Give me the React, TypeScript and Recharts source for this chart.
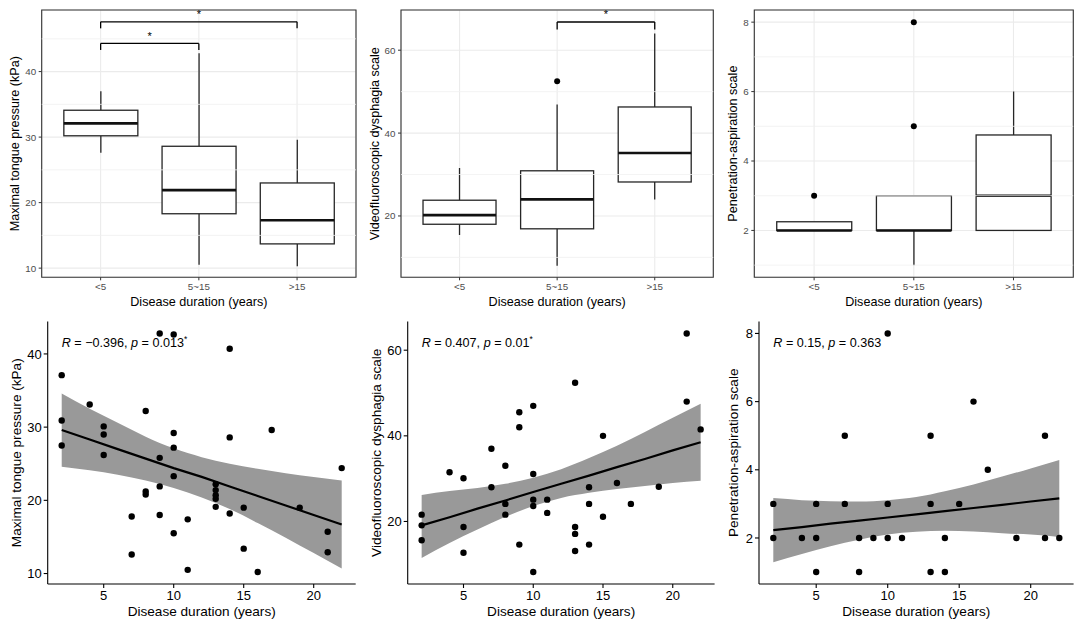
import React from "react";
import {
  ComposedChart, Bar, Scatter, Line, Area, XAxis, YAxis, CartesianGrid,
  ReferenceLine, ReferenceArea, ReferenceDot,
} from "recharts";

// ---- top row: box plots by disease-duration group ----
const groups = ["<5", "5~15", ">15"];
const groupPos = [1, 2, 3];

const mtpLow = [27.6, 10.5, 10.3];
const mtpQ1 = [30.2, 18.3, 13.7];
const mtpMed = [32.1, 21.9, 17.3];
const mtpQ3 = [34.1, 28.6, 23.0];
const mtpHigh = [37.0, 42.8, 29.6];

const vdsLow = [15.4, 8.0, 24.0];
const vdsQ1 = [18.0, 16.9, 28.2];
const vdsMed = [20.2, 24.0, 35.2];
const vdsQ3 = [23.8, 30.9, 46.3];
const vdsHigh = [31.6, 46.9, 64.0];
const vdsOutGroup = [2];
const vdsOutValue = [52.5];

const pasLow = [2, 1, 2];
const pasQ1 = [2, 2, 2];
const pasMed = [2, 2, 3];
const pasQ3 = [2.25, 3, 4.75];
const pasHigh = [2.25, 3, 6];
const pasOutGroup = [1, 2, 2];
const pasOutValue = [3, 5, 8];

// significance brackets
const mtpBrFrom = [1, 1];
const mtpBrTo = [2, 3];
const mtpBrY = [44.3, 47.6];
const mtpBrTip = [43.3, 46.6];
const mtpStarY = [45.8, 49.1];
const vdsBrFrom = [2];
const vdsBrTo = [3];
const vdsBrY = [66.8];
const vdsBrTip = [65.0];
const vdsStarY = [69.3];

// ---- bottom row: scatter + regression ----
const mtpYears = [2, 2, 2, 4, 5, 5, 5, 7, 7, 8, 8, 8, 9, 9, 9, 9, 10, 10, 10, 10, 10, 11, 11, 13, 13, 13, 13, 13, 14, 14, 14, 15, 15, 16, 17, 19, 21, 21, 22];
const mtpValues = [37.1, 30.9, 27.5, 33.1, 30.1, 29.0, 26.2, 17.8, 12.6, 32.2, 21.2, 20.8, 42.8, 25.8, 21.9, 18.0, 42.65, 29.2, 27.2, 23.3, 15.5, 17.4, 10.5, 22.2, 21.4, 20.7, 20.2, 19.1, 40.7, 28.6, 18.2, 19.0, 13.4, 10.2, 29.6, 19.0, 15.7, 12.9, 24.4];

const vdsYears = [2, 2, 2, 4, 5, 5, 5, 7, 7, 8, 8, 8, 9, 9, 9, 10, 10, 10, 10, 10, 11, 11, 13, 13, 13, 13, 14, 14, 14, 15, 15, 16, 17, 19, 21, 21, 22];
const vdsValues = [21.6, 19.1, 15.6, 31.5, 30.1, 18.7, 12.7, 37.0, 28.0, 33.0, 24.1, 21.6, 45.5, 42.0, 14.6, 47.0, 31.1, 25.1, 23.6, 8.2, 25.1, 22.0, 52.4, 18.7, 17.1, 13.1, 28.0, 24.1, 14.6, 40.0, 21.1, 29.0, 24.1, 28.1, 63.9, 48.0, 41.5];

const pasYears = [2, 2, 4, 5, 5, 5, 7, 7, 8, 8, 9, 10, 10, 10, 11, 13, 13, 13, 14, 14, 15, 16, 17, 19, 21, 21, 22];
const pasValues = [3, 2, 2, 3, 2, 1, 5, 3, 2, 1, 2, 8, 3, 2, 2, 5, 3, 1, 2, 1, 3, 6, 4, 2, 5, 2, 2];

const fitX = [2, 4, 6, 8, 10, 12, 14, 16, 18, 20, 22];
const mtpFit = [29.6, 28.3, 27.0, 25.7, 24.4, 23.2, 21.9, 20.6, 19.3, 18.0, 16.7];
const mtpUpper = [34.6, 32.5, 30.6, 28.7, 27.1, 25.9, 25.0, 24.3, 23.7, 23.2, 22.7];
const mtpLower = [24.6, 24.1, 23.5, 22.7, 21.7, 20.4, 18.8, 16.9, 14.9, 12.8, 10.7];
const vdsFit = [19.1, 21.0, 23.0, 24.9, 26.9, 28.8, 30.7, 32.7, 34.6, 36.6, 38.5];
const vdsUpper = [26.2, 27.1, 27.8, 28.8, 30.2, 32.2, 34.8, 37.7, 40.9, 44.2, 47.5];
const vdsLower = [11.5, 15.0, 18.1, 21.1, 23.6, 25.5, 26.7, 27.6, 28.3, 29.0, 29.5];
const pasFit = [2.23, 2.32, 2.42, 2.51, 2.60, 2.69, 2.79, 2.88, 2.97, 3.07, 3.16];
const pasUpper = [3.17, 3.11, 3.08, 3.07, 3.11, 3.20, 3.37, 3.57, 3.80, 4.04, 4.29];
const pasLower = [1.29, 1.53, 1.76, 1.95, 2.10, 2.18, 2.21, 2.19, 2.14, 2.10, 2.03];

const statR = ["\u22120.396", "0.407", "0.15"];
const statP = ["0.013", "0.01", "0.363"];
const statStar = [true, true, false];

const durationTicks = [5, 10, 15, 20];
const mtpTicks = [10, 20, 30, 40];
const mtpMinor = [15, 25, 35, 45];
const vdsTicks = [20, 40, 60];
const vdsMinor = [10, 30, 50];
const pasTicks = [2, 4, 6, 8];
const pasMinor = [1, 3, 5, 7];

const FONT = "'Liberation Sans', Arial, Helvetica, sans-serif";
const BOX_LINE = "#262626";

const boxRows = (low: number[], q1: number[], med: number[], q3: number[], high: number[]) =>
  groupPos.map((x, i) => ({ x, low: low[i], q1: q1[i], med: med[i], q3: q3[i], high: high[i] }));

const makeBoxShape = (boxPx: number) => (props: any) => {
  const { x, y, width, height, payload } = props;
  if (!payload || x == null) return null;
  const top = Math.min(y, y + height);
  const bot = Math.max(y, y + height);
  const span = payload.high - payload.low;
  const py = (v: number) => top + ((bot - top) * (payload.high - v)) / span;
  const cx = x + width / 2;
  const half = boxPx / 2;
  const yq3 = py(payload.q3);
  const yq1 = py(payload.q1);
  const ym = py(payload.med);
  return (
    <g>
      <line x1={cx} x2={cx} y1={top} y2={yq3} stroke={BOX_LINE} strokeWidth={1.3} />
      <line x1={cx} x2={cx} y1={yq1} y2={bot} stroke={BOX_LINE} strokeWidth={1.3} />
      <rect x={cx - half} y={yq3} width={boxPx} height={Math.max(yq1 - yq3, 0)} fill="#fff" stroke={BOX_LINE} strokeWidth={1.3} />
      <line x1={cx - half} x2={cx + half} y1={ym} y2={ym} stroke="#111" strokeWidth={2.6} />
    </g>
  );
};

const dotShape = (r: number) => (p: any) => <circle cx={p.cx} cy={p.cy} r={r} fill="#000" />;

const xTitle = (text: string, dy: number, size: number) => (props: any) => {
  const vb = props.viewBox;
  return (
    <text x={vb.x + vb.width / 2} y={vb.y + dy} textAnchor="middle" dominantBaseline="central" fontSize={size} fill="#000">
      {text}
    </text>
  );
};

const yTitle = (text: string, dx: number, size: number) => (props: any) => {
  const vb = props.viewBox;
  const cx = vb.x + dx;
  const cy = vb.y + vb.height / 2;
  return (
    <text x={cx} y={cy} transform={`rotate(-90 ${cx} ${cy})`} textAnchor="middle" dominantBaseline="central" fontSize={size} fill="#000">
      {text}
    </text>
  );
};

interface BoxPanelProps {
  left: number;
  width: number;
  axisW: number;
  marginRight: number;
  yDomain: [number, number];
  yTicks: number[];
  yMinor: number[];
  rows: ReturnType<typeof boxRows>;
  outGroup?: number[];
  outValue?: number[];
  brFrom?: number[];
  brTo?: number[];
  brY?: number[];
  brTip?: number[];
  starY?: number[];
  title: string;
  titleDx: number;
  boxPx: number;
}

function BoxPanel(p: BoxPanelProps) {
  const outliers = (p.outGroup || []).map((g, i) => ({ x: g, y: p.outValue![i] }));
  const brackets = (p.brFrom || []).map((f, i) => ({ from: f, to: p.brTo![i], y: p.brY![i], tip: p.brTip![i], star: p.starY![i] }));
  const tickStyle = { fontSize: 9.8, fill: "#4D4D4D" };
  return (
    <div style={{ position: "absolute", left: p.left, top: 0 }}>
      <ComposedChart width={p.width} height={310} data={p.rows} margin={{ top: 10, right: p.marginRight, bottom: 0, left: 0 }}>
        <CartesianGrid stroke="#EBEBEB" strokeWidth={1.1} />
        {p.yMinor.map((v) => (
          <ReferenceLine key={v} y={v} stroke="#F0F0F0" strokeWidth={0.8} />
        ))}
        <XAxis
          dataKey="x" type="number" domain={[0.4, 3.6]} ticks={groupPos} allowDataOverflow
          tickFormatter={(v) => groups[v - 1]} tick={tickStyle} axisLine={false}
          tickLine={{ stroke: "#333", strokeWidth: 1 }} tickSize={3} tickMargin={2.5} height={32.7}
          label={xTitle("Disease duration (years)", 24.4, 12.6)}
        />
        <YAxis
          type="number" domain={p.yDomain} ticks={p.yTicks} allowDataOverflow width={p.axisW}
          tick={tickStyle} axisLine={false} tickLine={{ stroke: "#333", strokeWidth: 1 }}
          tickSize={3} tickMargin={2.5} label={yTitle(p.title, p.titleDx, 12.6)}
        />
        <Bar dataKey={(d: any) => [d.low, d.high]} shape={makeBoxShape(p.boxPx)} isAnimationActive={false} />
        {outliers.length > 0 && (
          <Scatter data={outliers} dataKey="y" shape={dotShape(3)} isAnimationActive={false} />
        )}
        {brackets.map((b, i) => (
          <ReferenceLine key={`h${i}`} segment={[{ x: b.from, y: b.y }, { x: b.to, y: b.y }]} stroke="#000" strokeWidth={1.3} />
        ))}
        {brackets.map((b, i) => (
          <ReferenceLine key={`l${i}`} segment={[{ x: b.from, y: b.y }, { x: b.from, y: b.tip }]} stroke="#000" strokeWidth={1.3} />
        ))}
        {brackets.map((b, i) => (
          <ReferenceLine key={`r${i}`} segment={[{ x: b.to, y: b.y }, { x: b.to, y: b.tip }]} stroke="#000" strokeWidth={1.3} />
        ))}
        {brackets.map((b, i) => (
          <ReferenceDot
            key={`s${i}`} x={(b.from + b.to) / 2} y={b.star} r={0}
            shape={(s: any) => (
              <text x={s.cx} y={s.cy + 6} textAnchor="middle" fontSize={11} fill="#000">*</text>
            )}
          />
        ))}
        <ReferenceArea x1={0.4} x2={3.6} y1={p.yDomain[0]} y2={p.yDomain[1]} fill="none" stroke="#333" strokeWidth={1.1} ifOverflow="visible" />
      </ComposedChart>
    </div>
  );
}

interface ScatterPanelProps {
  left: number;
  width: number;
  axisW: number;
  marginRight: number;
  yDomain: [number, number];
  yTicks: number[];
  years: number[];
  values: number[];
  fit: number[];
  upper: number[];
  lower: number[];
  idx: number;
  title: string;
  titleDx: number;
}

function ScatterPanel(p: ScatterPanelProps) {
  const bandRows = fitX.map((x, i) => ({ x, fit: p.fit[i], lower: p.lower[i], upper: p.upper[i] }));
  const points = p.years.map((x, i) => ({ x, y: p.values[i] }));
  const axisStyle = { stroke: "#000", strokeWidth: 1.1 };
  const tickStyle = { fontSize: 13, fill: "#000" };
  const labelX = Math.min(...p.years);
  const labelY = Math.max(...p.values);
  return (
    <div style={{ position: "absolute", left: p.left, top: 310 }}>
      <ComposedChart width={p.width} height={319} data={bandRows} margin={{ top: 11.5, right: p.marginRight, bottom: 0, left: 0 }}>
        <XAxis
          dataKey="x" type="number" domain={[1, 23]} ticks={durationTicks} allowDataOverflow
          tick={tickStyle} axisLine={axisStyle} tickLine={axisStyle} tickSize={4} tickMargin={3} height={45}
          label={xTitle("Disease duration (years)", 27.7, 13.6)}
        />
        <YAxis
          type="number" domain={p.yDomain} ticks={p.yTicks} allowDataOverflow width={p.axisW}
          tick={tickStyle} axisLine={axisStyle} tickLine={axisStyle} tickSize={4} tickMargin={2}
          label={yTitle(p.title, p.titleDx, 13.6)}
        />
        <Area
          dataKey={(d: any) => [d.lower, d.upper]} type="monotone" fill="#999999" fillOpacity={1}
          stroke="none" isAnimationActive={false}
        />
        <Line dataKey="fit" type="linear" stroke="#000" strokeWidth={2.2} dot={false} isAnimationActive={false} />
        <Scatter data={points} dataKey="y" shape={dotShape(3.2)} isAnimationActive={false} />
        <ReferenceDot
          x={labelX} y={labelY} r={0}
          shape={(s: any) => (
            <text x={s.cx} y={s.cy + 14} fontSize={12.6} fill="#000">
              <tspan fontStyle="italic">R</tspan>
              {` = ${statR[p.idx]}, `}
              <tspan fontStyle="italic">p</tspan>
              {` = ${statP[p.idx]}`}
              {statStar[p.idx] && <tspan dy={-5} fontSize={8.5}>*</tspan>}
            </text>
          )}
        />
      </ComposedChart>
    </div>
  );
}

export default function App() {
  return (
    <div style={{ position: "absolute", left: 0, top: 0, width: 1084, height: 629, background: "#fff", fontFamily: FONT }}>
      <BoxPanel
        left={0} width={360} axisW={41.7} marginRight={4} yDomain={[8.6, 49.4]} yTicks={mtpTicks} yMinor={mtpMinor}
        rows={boxRows(mtpLow, mtpQ1, mtpMed, mtpQ3, mtpHigh)}
        brFrom={mtpBrFrom} brTo={mtpBrTo} brY={mtpBrY} brTip={mtpBrTip} starY={mtpStarY}
        title="Maximal tongue pressure (kPa)" titleDx={15} boxPx={74}
      />
      <BoxPanel
        left={360} width={360} axisW={41} marginRight={6.7} yDomain={[5.2, 69.7]} yTicks={vdsTicks} yMinor={vdsMinor}
        rows={boxRows(vdsLow, vdsQ1, vdsMed, vdsQ3, vdsHigh)} outGroup={vdsOutGroup} outValue={vdsOutValue}
        brFrom={vdsBrFrom} brTo={vdsBrTo} brY={vdsBrY} brTip={vdsBrTip} starY={vdsStarY}
        title="Videofluoroscopic dysphagia scale" titleDx={15} boxPx={73}
      />
      <BoxPanel
        left={720} width={364} axisW={34.3} marginRight={10.7} yDomain={[0.65, 8.35]} yTicks={pasTicks} yMinor={pasMinor}
        rows={boxRows(pasLow, pasQ1, pasMed, pasQ3, pasHigh)} outGroup={pasOutGroup} outValue={pasOutValue}
        title="Penetration-aspiration scale" titleDx={13.3} boxPx={75}
      />
      <ScatterPanel
        left={0} width={360} axisW={47.7} marginRight={4.3} yDomain={[8.57, 44.43]} yTicks={mtpTicks}
        years={mtpYears} values={mtpValues} fit={mtpFit} upper={mtpUpper} lower={mtpLower} idx={0}
        title="Maximal tongue pressure (kPa)" titleDx={16.7}
      />
      <ScatterPanel
        left={360} width={360} axisW={47.7} marginRight={5.4} yDomain={[5.4, 66.7]} yTicks={vdsTicks}
        years={vdsYears} values={vdsValues} fit={vdsFit} upper={vdsUpper} lower={vdsLower} idx={1}
        title="Videofluoroscopic dysphagia scale" titleDx={16.7}
      />
      <ScatterPanel
        left={720} width={364} axisW={39} marginRight={10.4} yDomain={[0.65, 8.35]} yTicks={pasTicks}
        years={pasYears} values={pasValues} fit={pasFit} upper={pasUpper} lower={pasLower} idx={2}
        title="Penetration-aspiration scale" titleDx={13.3}
      />
    </div>
  );
}
